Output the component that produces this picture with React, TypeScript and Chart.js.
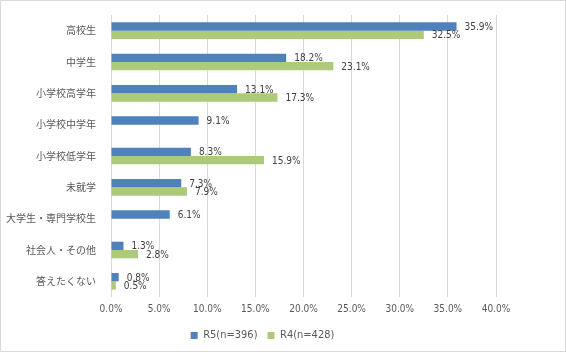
import React, { useEffect, useRef } from "react";
import { Chart, registerables } from "chart.js";

Chart.register(...registerables);

const categories = [
  "高校生",
  "中学生",
  "小学校高学年",
  "小学校中学年",
  "小学校低学年",
  "未就学",
  "大学生・専門学校生",
  "社会人・その他",
  "答えたくない",
];
const r5Values: (number | null)[] = [35.9, 18.2, 13.1, 9.1, 8.3, 7.3, 6.1, 1.3, 0.8];
const r4Values: (number | null)[] = [32.5, 23.1, 17.3, null, 15.9, 7.9, null, 2.8, 0.5];
const seriesLabels = ["R5(n=396)", "R4(n=428)"];
const xTicks = [0, 5, 10, 15, 20, 25, 30, 35, 40];

const numFont = "'Liberation Sans Narrow', 'DejaVu Sans Condensed', sans-serif";
const jpFont = "'Noto Sans CJK JP', sans-serif";

const dataLabelPlugin = {
  id: "dataLabels",
  afterDatasetsDraw(chart: any) {
    const ctx = chart.ctx;
    ctx.save();
    ctx.font = `10px ${numFont}`;
    ctx.fillStyle = "#404040";
    ctx.textAlign = "left";
    ctx.textBaseline = "middle";
    chart.data.datasets.forEach((ds: any, di: number) => {
      const meta = chart.getDatasetMeta(di);
      meta.data.forEach((bar: any, i: number) => {
        const v = ds.data[i];
        if (v === null || v === undefined) return;
        ctx.fillText(v.toFixed(1) + "%", bar.x + 8, bar.y + 1);
      });
    });
    ctx.restore();
  },
};

const legendShiftPlugin = {
  id: "legendShift",
  afterLayout(chart: any) {
    const lg = chart.legend;
    if (lg) {
      lg.left += 14;
      lg.right += 14;
    }
  },
};

export default function App() {
  const ref = useRef<HTMLCanvasElement>(null);
  useEffect(() => {
    document.body.style.margin = "0";
    const chart = new Chart(ref.current!, {
      type: "bar",
      data: {
        labels: categories,
        datasets: [
          {
            label: seriesLabels[0],
            data: r5Values,
            backgroundColor: "#4F81BD",
            categoryPercentage: 0.53,
            barPercentage: 1,
          },
          {
            label: seriesLabels[1],
            data: r4Values,
            backgroundColor: "#ADC97A",
            categoryPercentage: 0.53,
            barPercentage: 1,
          },
        ],
      },
      options: {
        indexAxis: "y",
        animation: false,
        responsive: false,
        layout: { padding: { top: 14, right: 69, left: 0, bottom: 0 } },
        scales: {
          x: {
            min: 0,
            max: 40,
            afterBuildTicks: (s: any) => {
              s.ticks = xTicks.map((v) => ({ value: v }));
            },
            afterFit: (s: any) => {
              s.height = 23;
            },
            ticks: {
              callback: (v: any) => Number(v).toFixed(1) + "%",
              font: { family: numFont, size: 10 },
              color: "#595959",
              padding: 6,
              maxRotation: 0,
            },
            grid: { color: "#D9D9D9", drawTicks: false },
            border: { display: false },
          },
          y: {
            afterFit: (s: any) => {
              s.width = 110;
            },
            ticks: {
              font: { family: jpFont, size: 10 },
              color: "#595959",
              padding: 7,
            },
            grid: { display: false },
            border: { display: false },
          },
        },
        plugins: {
          legend: {
            position: "bottom",
            labels: {
              boxWidth: 7,
              boxHeight: 7,
              font: { family: numFont, size: 11 },
              color: "#595959",
              padding: 10,
            },
          },
          tooltip: { enabled: false },
        },
      },
      plugins: [dataLabelPlugin, legendShiftPlugin],
    });
    return () => chart.destroy();
  }, []);
  return (
    <div
      style={{
        position: "absolute",
        left: 0,
        top: 0,
        width: 564,
        height: 350,
        border: "1px solid #D9D9D9",
        background: "#fff",
      }}
    >
      <canvas ref={ref} width={564} height={350} style={{ display: "block" }} />
    </div>
  );
}
